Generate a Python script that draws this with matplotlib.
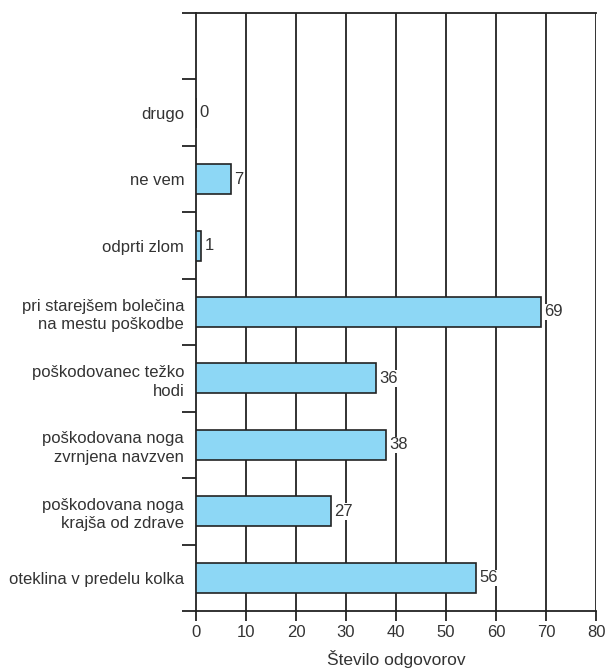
import matplotlib.pyplot as plt
import numpy as np

plt.rcParams['font.family'] = ['Liberation Sans', 'DejaVu Sans']

# Data (bottom to top)
categories = [
    "oteklina v predelu kolka",
    "poškodovana noga\nkrajša od zdrave",
    "poškodovana noga\nzvrnjena navzven",
    "poškodovanec težko\nhodi",
    "pri starejšem bolečina\nna mestu poškodbe",
    "odprti zlom",
    "ne vem",
    "drugo",
]
values = [56, 27, 38, 36, 69, 1, 7, 0]
x_ticks = [0, 10, 20, 30, 40, 50, 60, 70, 80]

bar_color = '#8dd7f5'
line_color = '#222222'
text_color = '#333333'

fig = plt.figure(figsize=(6.06, 6.68), dpi=100)
ax = fig.add_axes([196 / 606, 57 / 668, 400 / 606, 598 / 668])

pos = np.arange(len(categories)) + 0.5
ax.barh(pos, values, height=0.45, color=bar_color, edgecolor=line_color,
        linewidth=1.2, zorder=3)

# vertical grid lines
for t in x_ticks[1:]:
    ax.axvline(t, color=line_color, lw=1.3, zorder=1)

# value labels with white background
for p, v in zip(pos, values):
    ax.text(v + 0.7, p, str(v), va='center', ha='left', fontsize=12,
            color=text_color, zorder=4,
            bbox=dict(facecolor='white', edgecolor='none', pad=0.5))

ax.set_xlim(0, 80)
ax.set_ylim(0, 9)
ax.set_xticks(x_ticks)
ax.set_xticklabels([str(t) for t in x_ticks], fontsize=12, color=text_color)
ax.set_yticks(np.arange(0, 10))
ax.set_yticklabels([])
ax.set_yticks(pos, minor=True)
ax.set_yticklabels(categories, minor=True, fontsize=12, color=text_color,
                   linespacing=1.3)
ax.tick_params(axis='y', which='minor', length=0, pad=8.5)
ax.tick_params(axis='y', which='major', length=10, width=1.3, color=line_color)
ax.tick_params(axis='x', length=7, width=1.3, color=line_color, pad=3)
for lbl in ax.get_yticklabels(minor=True):
    lbl.set_horizontalalignment('right')
    lbl.set_multialignment('right')

for s in ['top', 'bottom', 'left']:
    ax.spines[s].set_color(line_color)
    ax.spines[s].set_linewidth(1.3)
ax.spines['right'].set_visible(False)

ax.set_xlabel("Število odgovorov", fontsize=12.5, color=text_color, labelpad=7)

fig.savefig('out.png', dpi=100)
